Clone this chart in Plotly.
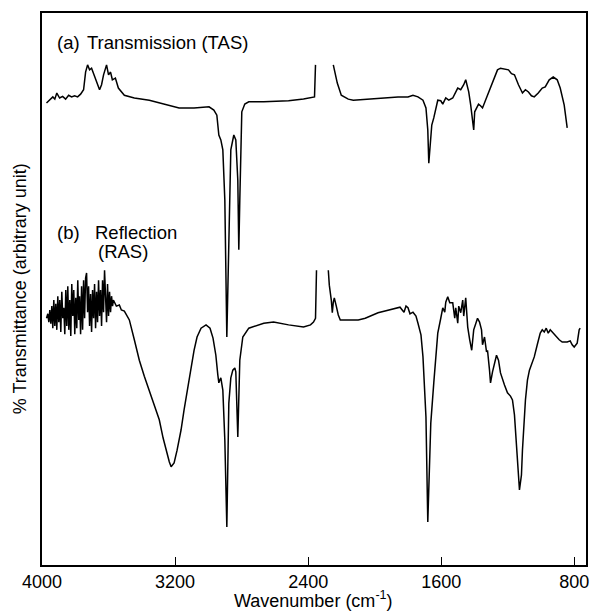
import plotly.graph_objects as go

# ---- data (wavenumber in cm-1, transmittance in arbitrary units) ----
tas_wn = [3973, 3953, 3935, 3923, 3911, 3894, 3876, 3858, 3840, 3822, 3804, 3786, 3768, 3750,
          3738, 3726, 3714, 3702, 3684, 3672, 3654, 3642, 3630, 3612, 3600, 3588, 3577, 3559,
          3541, 3505, 3445, 3355, 3265, 3176, 3086, 2996, 2967, 2949, 2937, 2925, 2913, 2901,
          2889, 2877, 2865, 2847, 2835, 2823, 2817, 2811, 2799, 2781, 2757, 2667, 2518, 2428,
          2374, 2362, 2356, None,
          2249, 2237, 2225, 2201, 2159, 2129, 1980, 1860, 1800, 1770, 1740, 1710, 1692, 1681,
          1675, 1663, 1657, 1645, 1633, 1621, 1603, 1591, 1573, 1555, 1531, 1513, 1501, 1483,
          1465, 1453, 1441, 1435, 1423, 1405, 1399, 1387, 1376, 1364, 1352, 1334, 1310, 1286,
          1262, 1244, 1220, 1196, 1178, 1160, 1136, 1112, 1094, 1076, 1058, 1041, 1017, 993,
          975, 951, 927, 903, 885, 861, 843]
tas_t = [83.7, 84.2, 84.8, 84.4, 85.5, 84.6, 84.9, 84.4, 85.1, 84.8, 85.0, 84.8, 85.3, 86.1,
         89.3, 90.6, 89.7, 90.0, 88.6, 87.3, 86.1, 87.0, 88.8, 90.6, 88.8, 89.3, 87.9, 88.2,
         86.4, 85.1, 84.6, 84.2, 83.5, 82.8, 82.8, 83.0, 82.4, 81.5, 77.9, 77.0, 75.2, 66.1,
         41.3, 57.1, 75.2, 77.9, 77.0, 69.7, 57.1, 66.1, 82.1, 83.5, 83.9, 83.9, 84.1, 84.4,
         84.8, 84.8, 90.6, None,
         90.6, 88.8, 87.3, 85.1, 84.4, 84.2, 84.6, 84.8, 84.8, 85.1, 84.8, 84.2, 82.8, 78.8,
         72.8, 77.0, 79.7, 81.0, 82.8, 84.2, 84.1, 83.5, 84.6, 84.2, 84.6, 85.7, 86.4, 86.1,
         87.0, 87.9, 86.4, 85.7, 83.3, 78.8, 82.1, 82.8, 83.5, 83.2, 82.8, 84.2, 86.1, 87.9,
         89.7, 90.0, 89.9, 89.7, 89.0, 88.8, 87.0, 85.5, 86.1, 85.7, 85.0, 84.8, 85.5, 86.4,
         86.6, 87.9, 88.4, 87.9, 86.4, 83.3, 79.2]

ras_wn = [3973, 3965, 3959, 3953, 3947, 3941, 3935, 3929, 3923, 3917, 3911, 3905, 3899, 3893,
          3887, 3881, 3875, 3869, 3863, 3857, 3851, 3845, 3839, 3833, 3827, 3821, 3815, 3809,
          3803, 3797, 3791, 3785, 3779, 3774, 3768, 3762, 3756, 3750, 3744, 3738, 3732, 3726,
          3720, 3714, 3708, 3702, 3696, 3690, 3684, 3678, 3672, 3666, 3660, 3654, 3648, 3642,
          3636, 3630, 3624, 3618, 3612, 3606, 3600, 3594, 3588, 3582, 3576, 3571, 3565, 3553,
          3535, 3523, 3505, 3487, 3475,
          3445, 3415, 3385, 3355, 3325, 3295, 3272, 3254, 3235, 3224, 3206, 3188, 3164, 3146,
          3122, 3104, 3086, 3068, 3044, 3014, 2990, 2972, 2955, 2943, 2937, 2931, 2925, 2913,
          2901, 2889, 2877, 2865, 2853, 2841, 2835, 2823, 2811, 2793, 2757, 2667, 2608, 2518,
          2428, 2386, 2368, 2356, 2350, None,
          2279, 2273, 2261, 2255, 2249, 2243, 2231, 2219, 2207, 2159, 2099, 2057, 2021, 1980,
          1938, 1890, 1848, 1824, 1812, 1800, 1788, 1770, 1752, 1740, 1722, 1710, 1692, 1681,
          1663, 1645, 1621, 1603, 1591, 1579, 1573, 1561, 1549, 1531, 1519, 1513, 1501, 1495,
          1483, 1471, 1465, 1453, 1441, 1429, 1417, 1405, 1393, 1382, 1370, 1358, 1352, 1340,
          1328, 1322, 1310, 1304, 1292, 1280, 1268, 1256, 1244, 1220, 1202, 1184, 1172, 1160,
          1154, 1142, 1130, 1118, 1112, 1094, 1082, 1070, 1052, 1041, 1023, 1005, 993, 981,
          969, 957, 945, 933, 915, 891, 873, 843, 825, 813, 801, 783, 771, 765]
ras_t = [44.7, 45.5, 44.0, 46.2, 43.7, 46.9, 42.9, 48.0, 43.3, 47.3, 42.6, 48.7, 44.0, 48.0,
         42.2, 49.5, 44.7, 46.6, 41.8, 49.8, 43.3, 50.5, 42.6, 48.0, 41.5, 50.9, 45.1, 49.8,
         41.8, 48.4, 42.9, 51.6, 44.4, 48.7, 41.8, 50.5, 42.6, 51.6, 44.7, 52.0, 52.9, 45.8,
         50.5, 43.3, 49.1, 42.2, 49.8, 44.7, 50.9, 42.9, 49.5, 44.0, 51.6, 45.1, 49.8, 43.3,
         51.6, 45.8, 53.4, 48.0, 44.0, 50.9, 45.1, 49.5, 45.8, 48.7, 46.9, 48.0, 47.5, 46.9,
         47.1, 46.2, 46.0, 45.1, 44.4,
         40.8, 37.1, 34.2, 31.7, 29.0, 26.3, 23.0, 20.8, 18.7, 17.8, 18.5, 20.8, 24.5, 28.1,
         32.6, 35.9, 38.9, 41.3, 42.9, 43.5, 42.9, 41.1, 38.0, 34.4, 33.0, 33.5, 33.9, 31.7,
         22.6, 6.9, 29.3, 33.9, 35.3, 35.7, 35.0, 23.2, 37.1, 41.3, 42.9, 43.8, 44.0, 43.5,
         43.1, 43.5, 44.0, 44.7, 53.4, None,
         53.4, 50.7, 48.0, 45.7, 47.6, 48.4, 46.9, 45.3, 44.4, 44.4, 44.4, 44.7, 45.1, 45.7,
         46.0, 46.4, 46.7, 45.8, 46.9, 46.6, 45.5, 45.8, 45.1, 43.8, 41.7, 37.7, 26.8, 7.8,
         25.7, 33.0, 42.0, 44.7, 46.6, 45.8, 47.6, 48.6, 47.5, 47.5, 44.7, 46.6, 43.8, 46.9,
         45.7, 48.0, 45.1, 48.4, 43.1, 40.8, 38.9, 42.6, 43.8, 44.7, 44.0, 42.6, 39.9, 41.3,
         38.6, 38.9, 35.3, 33.0, 35.0, 36.6, 38.0, 37.1, 34.8, 32.6, 31.2, 30.6, 29.9, 27.2,
         24.5, 18.1, 13.6, 16.3, 20.8, 29.9, 33.5, 35.3, 36.8, 37.7, 39.9, 42.0, 42.6, 42.2,
         42.9, 42.0, 42.6, 42.2, 41.5, 40.8, 40.4, 40.4, 40.6, 39.9, 39.5, 40.2, 42.6, 42.9]

x_ticks = [4000, 3200, 2400, 1600, 800]

FONT = "Liberation Sans, Arial, Helvetica, sans-serif"

fig = go.Figure()
fig.add_trace(go.Scatter(x=tas_wn, y=tas_t, mode="lines", connectgaps=False,
                         line=dict(color="black", width=1.5), showlegend=False))
fig.add_trace(go.Scatter(x=ras_wn, y=ras_t, mode="lines", connectgaps=False,
                         line=dict(color="black", width=1.5), showlegend=False))

fig.update_layout(
    width=593, height=613,
    margin=dict(l=42, r=4, t=13, b=48),
    paper_bgcolor="white", plot_bgcolor="white",
    font=dict(family=FONT, color="black", size=18),
    xaxis=dict(range=[4000, 730], tickvals=x_ticks, ticktext=[str(v) for v in x_ticks],
               ticks="inside", ticklen=8, tickwidth=1.3, tickcolor="black",
               showline=True, linecolor="black", linewidth=1.5, mirror=True,
               showgrid=False, zeroline=False, tickfont=dict(size=18, family=FONT)),
    yaxis=dict(range=[0, 100], showticklabels=False, ticks="",
               showline=True, linecolor="black", linewidth=1.5, mirror=True,
               showgrid=False, zeroline=False),
)

ann = [
    dict(text="(a)", x=0.024, y=0.946, xanchor="left"),
    dict(text="Transmission (TAS)", x=0.0786, y=0.946, xanchor="left"),
    dict(text="(b)", x=0.024, y=0.603, xanchor="left"),
    dict(text="Reflection", x=0.093, y=0.603, xanchor="left"),
    dict(text="(RAS)", x=0.099, y=0.568, xanchor="left"),
]
for a in ann:
    fig.add_annotation(xref="paper", yref="paper", showarrow=False, yanchor="middle",
                       font=dict(size=18.5, family=FONT, color="black"), **a)

fig.add_annotation(text="Wavenumber (cm<sup>-1</sup>)", xref="paper", yref="paper",
                   x=0.499, y=-0.0625, xanchor="center", yanchor="middle", showarrow=False,
                   font=dict(size=18, family=FONT, color="black"))
fig.add_annotation(text="% Transmittance (arbitrary unit)", xref="paper", yref="paper",
                   x=-0.040, y=0.5, xanchor="center", yanchor="middle", textangle=-90,
                   showarrow=False, font=dict(size=18, family=FONT, color="black"))

fig.write_html("out.html", config={"displayModeBar": False})

# remove the browser's default page margin so the figure sits at the window's corner
with open("out.html", "r", encoding="utf-8") as f:
    html = f.read()
html = html.replace("<head>", "<head><style>html,body{margin:0;padding:0;overflow:hidden;}</style>", 1)
with open("out.html", "w", encoding="utf-8") as f:
    f.write(html)
